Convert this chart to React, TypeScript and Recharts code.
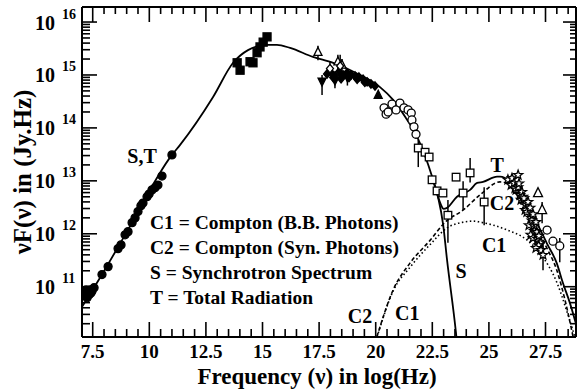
import React from 'react';
import { ComposedChart, Line, Scatter, XAxis, YAxis, ErrorBar, ReferenceDot, Label } from 'recharts';

const FONT = 'Liberation Serif, Tinos, DejaVu Serif, serif';

// every pair is [log10(frequency / Hz), log10(νF / Jy.Hz)]
const radioPts = [
  [7.12, 10.91], [7.16, 10.83], [7.21, 10.94], [7.25, 10.79], [7.29, 10.89], [7.34, 10.85],
  [7.38, 10.94], [7.42, 10.88], [7.47, 10.92], [7.56, 10.98], [7.91, 11.23], [8.18, 11.38],
  [8.62, 11.72], [8.75, 11.79], [8.93, 11.98], [9.06, 12.04], [9.24, 12.21], [9.37, 12.3],
  [9.5, 12.42], [9.63, 12.53], [9.72, 12.58], [9.9, 12.7], [9.99, 12.75], [10.12, 12.83],
  [10.25, 12.87], [10.38, 12.92], [10.56, 13.09], [11.0, 13.49],
];
const irPts = [
  [13.88, 15.23], [14.01, 15.09], [14.45, 15.25], [14.58, 15.23], [14.76, 15.42],
  [14.89, 15.53], [15.03, 15.62], [15.2, 15.72],
];
// [x, y, yLow, yHigh]
const uvTriUp = [[17.45, 15.43, 15.28, 15.55], [18.33, 15.25, 15.1, 15.38], [18.51, 15.19, 15.05, 15.3]];
const uvDiamond = [[17.98, 15.12, 15.0, 15.25], [18.43, 15.17, 14.91, 15.38]];
const uvTriDown = [[17.63, 14.88, 14.62, 15.0], [18.2, 14.9, 14.75, 15.0], [18.75, 14.96, 14.8, 15.05]];
const uvBlob = [
  [17.85, 15.02], [18.03, 15.04], [18.2, 14.98], [18.38, 15.06], [18.56, 15.0], [18.73, 15.04],
  [18.91, 15.0], [19.09, 14.98], [19.26, 14.96], [19.44, 14.92], [19.62, 14.87], [19.79, 14.83],
  [19.97, 14.79], [18.12, 14.95], [18.47, 14.93], [18.82, 14.95], [19.18, 14.92], [19.52, 14.86],
];
const uvFilledTri = [[20.11, 14.62]];
const optCircles = [
  [20.37, 14.38], [20.46, 14.26], [20.55, 14.3], [20.72, 14.45], [20.9, 14.34], [21.07, 14.47],
  [21.25, 14.38], [21.43, 14.34], [21.57, 14.28], [21.6, 14.15], [21.69, 14.02], [21.78, 13.88],
];
const xSquares = [
  [21.88, 13.62, 13.26, 13.77], [22.18, 13.54, 13.54, 13.54], [22.36, 13.45, 13.45, 13.45],
  [22.49, 13.02, 13.02, 13.02], [22.71, 12.81, 12.81, 12.81], [22.97, 12.77, 12.77, 12.77],
  [23.19, 12.35, 11.83, 12.64], [23.55, 13.07, 13.07, 13.07], [23.86, 12.77, 12.45, 12.99],
  [24.17, 13.15, 12.97, 13.43], [24.79, 12.6, 12.16, 12.88],
];
const gammaStars = [
  [25.84, 13.02], [25.98, 12.92], [26.02, 13.05], [26.11, 12.96], [26.15, 12.86], [26.2, 12.83],
  [26.29, 12.88], [26.29, 13.11], [26.33, 12.95], [26.37, 12.73], [26.46, 12.79], [26.42, 12.64],
  [26.5, 12.7], [26.55, 12.67], [26.6, 12.45], [26.64, 12.54], [26.73, 12.6], [26.68, 12.41],
  [26.82, 12.49], [26.86, 12.3], [26.9, 12.25], [26.95, 12.37], [26.77, 12.16], [26.99, 12.15],
  [27.0, 12.05], [27.08, 12.22], [27.12, 12.03], [26.85, 11.98], [26.95, 11.92], [27.15, 11.9],
  [27.21, 11.96], [27.26, 11.83], [27.2, 11.78], [27.08, 11.73], [27.3, 11.69],
];
const gammaStarErr = [[27.39, 11.6, 11.31, 11.88]];
const gammaTri = [[27.17, 12.77, 12.77, 12.77], [27.35, 12.45, 12.2, 12.6]];
const tevCircles = [[27.57, 12.07, 12.07, 12.07], [27.83, 11.86, 11.86, 11.86], [28.13, 11.77, 11.46, 11.92]];

// model curves
const synchro = [
  [7.03, 10.62], [7.91, 11.23], [8.93, 11.98], [11.0, 13.49], [11.36, 13.68], [12.81, 14.58],
  [13.7, 15.23], [14.36, 15.47], [15.2, 15.57], [15.64, 15.57], [16.22, 15.51], [17.23, 15.34],
  [18.12, 15.23], [19.31, 15.0], [20.19, 14.77], [20.77, 14.53], [21.3, 14.21], [21.83, 13.83],
  [22.49, 13.08], [22.75, 12.7], [22.98, 12.17], [23.15, 11.51], [23.54, 10.15], [23.6, 9.9],
];
const total = [
  [22.49, 13.08], [22.75, 12.7], [22.88, 12.55], [23.0, 12.47], [23.15, 12.49], [23.59, 12.7],
  [24.17, 12.83], [24.48, 12.96], [24.74, 12.98], [25.36, 13.08], [25.49, 13.08], [25.93, 12.98],
  [26.5, 12.58], [27.12, 12.2], [27.56, 11.82], [28.0, 11.44], [28.27, 11.07], [28.58, 10.69],
  [28.89, 10.23],
];
const comptonSyn = [
  [20.05, 10.05], [20.77, 10.94], [21.52, 11.45], [22.41, 11.88], [23.07, 12.22], [23.87, 12.45],
  [24.62, 12.74], [25.49, 12.98], [25.93, 12.94], [26.5, 12.5], [27.12, 12.1], [27.56, 11.73],
  [28.0, 11.31], [28.36, 10.75], [28.72, 10.05],
];
const comptonBB = [
  [20.06, 10.05], [20.77, 10.92], [21.52, 11.37], [22.41, 11.8], [23.15, 12.11], [23.87, 12.22],
  [24.31, 12.24], [24.62, 12.22], [25.81, 12.07], [26.69, 11.88], [27.26, 11.63], [28.01, 11.07],
  [28.5, 10.46], [28.8, 10.05],
];

const xMajor = [7.5, 10, 12.5, 15, 17.5, 20, 22.5, 25, 27.5];
const yExponents = [10, 11, 12, 13, 14, 15, 16];
const legendLines = [
  'C1 = Compton (B.B. Photons)',
  'C2 = Compton (Syn. Photons)',
  'S = Synchrotron Spectrum',
  'T = Total Radiation',
];
// [text, x, log y, anchor]
const notes: [string, number, number, string][] = [
  ['S,T', 9.68, 13.34, 'middle'],
  ['T', 25.36, 13.17, 'middle'],
  ['C2', 25.58, 12.45, 'middle'],
  ['C1', 25.23, 11.65, 'middle'],
  ['S', 23.77, 11.16, 'middle'],
  ['C2', 19.31, 10.31, 'middle'],
  ['C1', 21.39, 10.37, 'middle'],
];
const legendX = 10.03;
const legendY = [12.09, 11.62, 11.14, 10.67];

const X_DOMAIN: [number, number] = [7.027, 28.847];
const Y_DOMAIN: [number, number] = [10 ** 10.05, 10 ** 16.284];

const rows = (pts: number[][]) => pts.map(([x, l]) => ({ x, y: 10 ** l }));
const errRows = (pts: number[][]) =>
  pts.map(([x, l, lo, hi]) => ({ x, y: 10 ** l, err: [10 ** l - 10 ** lo, 10 ** hi - 10 ** l] }));

const xTicks: number[] = [];
for (let v = 7.5; v <= 28.5 + 1e-9; v += 0.5) xTicks.push(+v.toFixed(1));
const yMajors = yExponents.map((d) => 10 ** d);
const yTicks = yExponents
  .flatMap((d) => [1, 2, 3, 4, 5, 6, 7, 8, 9].map((k) => k * 10 ** d))
  .filter((v) => v >= Y_DOMAIN[0] && v <= Y_DOMAIN[1]);

const starPts = (cx: number, cy: number, R: number, r: number) => {
  const out: string[] = [];
  for (let i = 0; i < 10; i++) {
    const a = -Math.PI / 2 + (i * Math.PI) / 5;
    const rad = i % 2 === 0 ? R : r;
    out.push(`${cx + rad * Math.cos(a)},${cy + rad * Math.sin(a)}`);
  }
  return out.join(' ');
};

const marker = (kind: string, filled: boolean, s = 4) => (p: any) => {
  const { cx, cy } = p;
  const fill = filled ? '#000' : '#fff';
  const common = { fill, stroke: '#000', strokeWidth: 1.3 };
  if (kind === 'circle') return <circle cx={cx} cy={cy} r={s} {...common} />;
  if (kind === 'square') return <rect x={cx - s} y={cy - s} width={2 * s} height={2 * s} {...common} />;
  if (kind === 'triUp')
    return <polygon points={`${cx},${cy - s * 1.2} ${cx - s},${cy + s * 0.8} ${cx + s},${cy + s * 0.8}`} {...common} />;
  if (kind === 'triDown')
    return <polygon points={`${cx},${cy + s * 1.2} ${cx - s},${cy - s * 0.8} ${cx + s},${cy - s * 0.8}`} {...common} />;
  if (kind === 'diamond')
    return <polygon points={`${cx},${cy - s * 1.2} ${cx + s},${cy} ${cx},${cy + s * 1.2} ${cx - s},${cy}`} {...common} />;
  return <polygon points={starPts(cx, cy, s * 1.2, s * 0.5)} {...common} />;
};

const txt = (size: number) => ({
  fontFamily: FONT,
  fontWeight: 700,
  fontSize: size,
  fill: '#000',
});

const BottomTick = (p: any) => {
  const { x, y, payload } = p;
  const major = xMajor.includes(payload.value);
  return (
    <g>
      <line x1={x} x2={x} y1={y} y2={y - (major ? 15 : 8)} stroke="#000" strokeWidth={1.6} />
      {major && (
        <text x={x} y={y + 21} textAnchor="middle" {...txt(19)}>
          {payload.value}
        </text>
      )}
    </g>
  );
};

const TopTick = (p: any) => {
  const { x, y, payload } = p;
  const major = xMajor.includes(payload.value);
  return <line x1={x} x2={x} y1={y} y2={y + (major ? 15 : 7)} stroke="#000" strokeWidth={1.6} />;
};

const LeftTick = (p: any) => {
  const { x, y, payload } = p;
  const major = yMajors.includes(payload.value);
  return (
    <g>
      <line x1={x} x2={x + (major ? 15 : 8)} y1={y} y2={y} stroke="#000" strokeWidth={1.6} />
      {major && (
        <g>
          <text x={x - 27} y={y + 7.5} textAnchor="end" {...txt(20)}>10</text>
          <text x={x - 20} y={y - 3.5} textAnchor="start" {...txt(14)}>
            {Math.round(Math.log10(payload.value))}
          </text>
        </g>
      )}
    </g>
  );
};

const RightTick = (p: any) => {
  const { x, y, payload } = p;
  const major = yMajors.includes(payload.value);
  return <line x1={x} x2={x - (major ? 13 : 6)} y1={y} y2={y} stroke="#000" strokeWidth={1.6} />;
};

const noteShape = (text: string, anchor: string, size = 20) => (p: any) => (
  <text x={p.cx} y={p.cy} textAnchor={anchor as any} {...txt(size)}>
    {text}
  </text>
);

export default function App() {
  return (
    <div style={{ width: 577, height: 390, background: '#fff', fontFamily: FONT }}>
      <style>{'body{margin:0}'}</style>
      <ComposedChart width={577} height={390} margin={{ top: 6, right: 0, bottom: 0, left: 0 }} style={{ fontFamily: FONT }}>
        <XAxis
          type="number"
          dataKey="x"
          domain={X_DOMAIN}
          allowDataOverflow
          ticks={xTicks}
          interval={0}
          tickSize={0}
          tickMargin={0}
          tickLine={false}
          tick={<BottomTick />}
          height={53}
          axisLine={{ stroke: '#000', strokeWidth: 2 }}
        >
          <Label
            content={(props: any) => {
              const vb = props.viewBox;
              return (
                <text x={vb.x + vb.width / 2 - 12} y={vb.y + 47} textAnchor="middle" {...txt(23)}>
                  Frequency (ν) in log(Hz)
                </text>
              );
            }}
          />
        </XAxis>
        <XAxis
          xAxisId="top"
          orientation="top"
          type="number"
          dataKey="x"
          domain={X_DOMAIN}
          allowDataOverflow
          ticks={xTicks}
          interval={0}
          tickSize={0}
          tickMargin={0}
          tickLine={false}
          tick={<TopTick />}
          height={1}
          axisLine={{ stroke: '#000', strokeWidth: 2 }}
        />
        <YAxis
          type="number"
          dataKey="y"
          scale="log"
          domain={Y_DOMAIN}
          allowDataOverflow
          ticks={yTicks}
          interval={0}
          tickSize={0}
          tickMargin={0}
          tickLine={false}
          tick={<LeftTick />}
          width={82}
          axisLine={{ stroke: '#000', strokeWidth: 2 }}
        >
          <Label
            content={(props: any) => {
              const vb = props.viewBox;
              const cx = 31;
              const cy = vb.y + vb.height / 2;
              return (
                <text x={cx} y={cy} transform={`rotate(-90 ${cx} ${cy})`} textAnchor="middle" {...txt(25)}>
                  νF(ν) in (Jy.Hz)
                </text>
              );
            }}
          />
        </YAxis>
        <YAxis
          yAxisId="right"
          orientation="right"
          type="number"
          dataKey="y"
          scale="log"
          domain={Y_DOMAIN}
          allowDataOverflow
          ticks={yTicks}
          interval={0}
          tickSize={0}
          tickMargin={0}
          tickLine={false}
          tick={<RightTick />}
          width={1}
          axisLine={{ stroke: '#000', strokeWidth: 2 }}
        />

        <Line data={rows(comptonBB)} dataKey="y" type="monotone" stroke="#000" strokeWidth={1.6} strokeDasharray="1.5 2.5" dot={false} isAnimationActive={false} />
        <Line data={rows(comptonSyn)} dataKey="y" type="monotone" stroke="#000" strokeWidth={1.6} strokeDasharray="4 2.5" dot={false} isAnimationActive={false} />
        <Line data={rows(synchro)} dataKey="y" type="monotone" stroke="#000" strokeWidth={1.8} dot={false} isAnimationActive={false} />
        <Line data={rows(total)} dataKey="y" type="monotone" stroke="#000" strokeWidth={1.8} dot={false} isAnimationActive={false} />

        <Scatter data={rows(radioPts)} shape={marker('circle', true, 4)} isAnimationActive={false} />
        <Scatter data={rows(irPts)} shape={marker('square', true, 4)} isAnimationActive={false} />
        <Scatter data={rows(uvBlob)} shape={marker('diamond', true, 3.5)} isAnimationActive={false} />
        <Scatter data={errRows(uvTriDown)} shape={marker('triDown', true, 4)} isAnimationActive={false}>
          <ErrorBar dataKey="err" direction="y" width={0} stroke="#000" strokeWidth={1.5} />
        </Scatter>
        <Scatter data={errRows(uvTriUp)} shape={marker('triUp', false, 4)} isAnimationActive={false}>
          <ErrorBar dataKey="err" direction="y" width={0} stroke="#000" strokeWidth={1.5} />
        </Scatter>
        <Scatter data={errRows(uvDiamond)} shape={marker('diamond', false, 3.5)} isAnimationActive={false}>
          <ErrorBar dataKey="err" direction="y" width={0} stroke="#000" strokeWidth={1.5} />
        </Scatter>
        <Scatter data={rows(uvFilledTri)} shape={marker('triUp', true, 4)} isAnimationActive={false} />
        <Scatter data={rows(optCircles)} shape={marker('circle', false, 4)} isAnimationActive={false} />
        <Scatter data={errRows(xSquares)} shape={marker('square', false, 3.8)} isAnimationActive={false}>
          <ErrorBar dataKey="err" direction="y" width={0} stroke="#000" strokeWidth={1.5} />
        </Scatter>
        <Scatter data={rows(gammaStars)} shape={marker('star', false, 4)} isAnimationActive={false} />
        <Scatter data={errRows(gammaStarErr)} shape={marker('star', false, 4)} isAnimationActive={false}>
          <ErrorBar dataKey="err" direction="y" width={0} stroke="#000" strokeWidth={1.5} />
        </Scatter>
        <Scatter data={errRows(gammaTri)} shape={marker('triUp', false, 4.5)} isAnimationActive={false}>
          <ErrorBar dataKey="err" direction="y" width={0} stroke="#000" strokeWidth={1.5} />
        </Scatter>
        <Scatter data={errRows(tevCircles)} shape={marker('circle', false, 4)} isAnimationActive={false}>
          <ErrorBar dataKey="err" direction="y" width={0} stroke="#000" strokeWidth={1.5} />
        </Scatter>

        {notes.map(([t, x, l, a], i) => (
          <ReferenceDot key={'n' + i} x={x} y={10 ** l} r={0} shape={noteShape(t, a)} />
        ))}
        {legendLines.map((t, i) => (
          <ReferenceDot key={'l' + i} x={legendX} y={10 ** legendY[i]} r={0} shape={noteShape(t, 'start', 19.5)} />
        ))}
      </ComposedChart>
    </div>
  );
}
